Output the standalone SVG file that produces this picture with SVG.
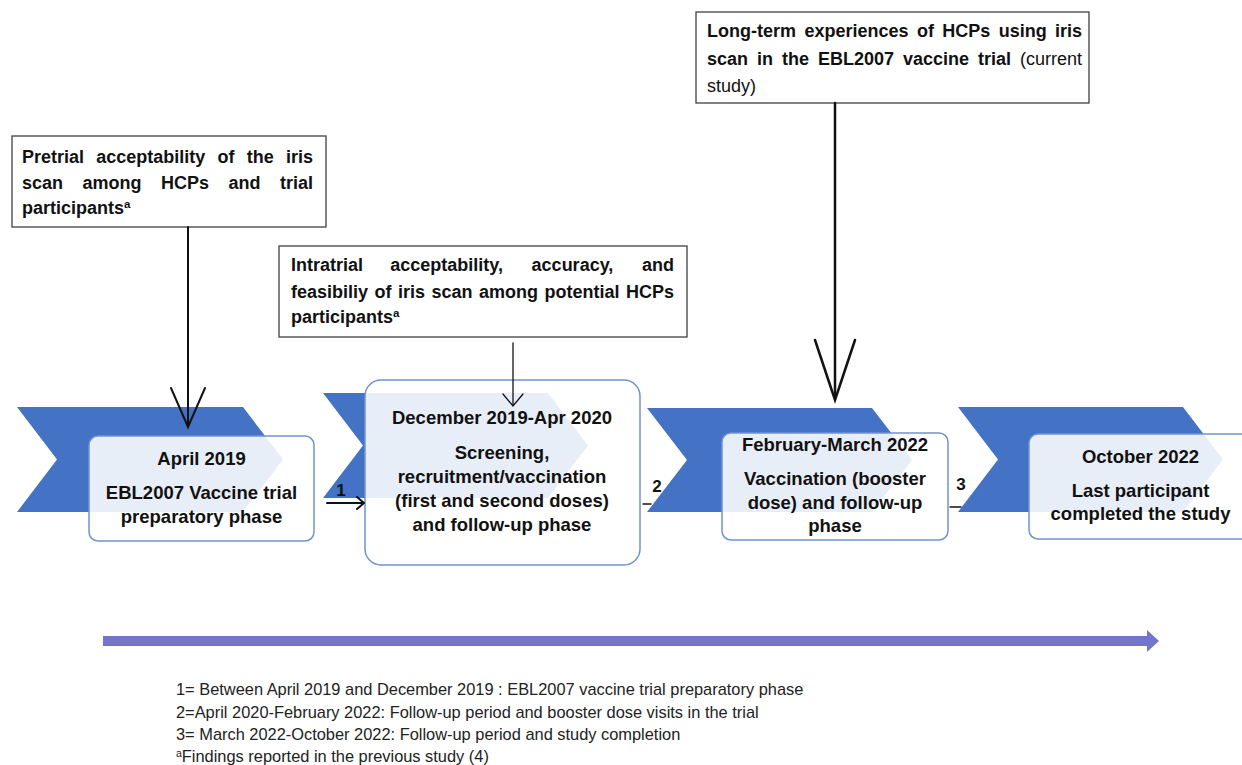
<svg xmlns="http://www.w3.org/2000/svg" width="1242" height="765" viewBox="0 0 1242 765">
<style>
.chev{fill:#4472C4}
.box{fill:#FFFFFF;fill-opacity:0.88;stroke:#7193D3;stroke-width:1.5}
.call{fill:#FFFFFF;stroke:#404040;stroke-width:1.3}
.bt{font-family:"Liberation Sans",Arial,sans-serif;font-weight:bold;font-size:18.5px;fill:#111;text-anchor:middle}
.ct{font-family:"Liberation Sans",Arial,sans-serif;font-weight:bold;font-size:18px;fill:#111}
.reg{font-weight:normal}
.ft{font-family:"Liberation Sans",Arial,sans-serif;font-size:16.4px;fill:#222}
.lbl{font-family:"Liberation Sans",Arial,sans-serif;font-weight:bold;font-size:17px;fill:#111;text-anchor:middle}
.ln{fill:none;stroke:#111;stroke-linecap:round;stroke-linejoin:miter}
</style>
<rect width="1242" height="765" fill="#FFFFFF"/>

<g id="stage1">
<polygon class="chev" points="17,407 243,407 283,459.5 243,512 17,512 57,459.5"/>
<rect class="box" x="89" y="436" width="225" height="105" rx="9"/>
<text class="bt" x="201.5" y="465">April 2019</text>
<text class="bt" x="201.5" y="499">EBL2007 Vaccine trial</text>
<text class="bt" x="201.5" y="523">preparatory phase</text>
</g>

<g id="stage2">
<polygon class="chev" points="323,393 548,393 588,445.5 548,498 323,498 363,445.5"/>
<rect class="box" x="365" y="380" width="275" height="185" rx="16"/>
<text class="bt" x="502" y="424">December 2019-Apr 2020</text>
<text class="bt" x="502" y="459">Screening,</text>
<text class="bt" x="502" y="483">recruitment/vaccination</text>
<text class="bt" x="502" y="507">(first and second doses)</text>
<text class="bt" x="502" y="531">and follow-up phase</text>
</g>

<g id="stage3">
<polygon class="chev" points="647,408 872,408 912,460 872,512 647,512 687,460"/>
<rect class="box" x="722" y="433" width="226" height="107" rx="9"/>
<text class="bt" x="835" y="451">February-March 2022</text>
<text class="bt" x="835" y="485">Vaccination (booster</text>
<text class="bt" x="835" y="509">dose) and follow-up</text>
<text class="bt" x="835" y="532">phase</text>
</g>

<g id="stage4">
<polygon class="chev" points="958,407 1183,407 1223,459.5 1183,512 958,512 998,459.5"/>
<rect class="box" x="1029" y="434" width="225" height="105" rx="9"/>
<text class="bt" x="1140.5" y="463">October 2022</text>
<text class="bt" x="1140.5" y="497">Last participant</text>
<text class="bt" x="1140.5" y="520">completed the study</text>
</g>

<g id="callout-pretrial">
<rect class="call" x="12" y="136" width="314" height="91"/>
<text class="ct" y="163"><tspan x="22">Pretrial</tspan><tspan x="96.2">acceptability</tspan><tspan x="217.5">of</tspan><tspan x="246.7">the</tspan></text>
<text class="ct" y="163" x="313" text-anchor="end">iris</text>
<text class="ct" y="189"><tspan x="22">scan</tspan><tspan x="82.5">among</tspan><tspan x="161">HCPs</tspan><tspan x="228.5">and</tspan></text>
<text class="ct" y="189" x="313" text-anchor="end">trial</text>
<text class="ct" x="22" y="214">participants<tspan dy="-6" font-size="11.5">a</tspan></text>
</g>

<g id="callout-intratrial">
<rect class="call" x="279" y="246" width="408" height="91"/>
<text class="ct" y="271"><tspan x="291">Intratrial</tspan><tspan x="390.3">acceptability,</tspan><tspan x="531.6">accuracy,</tspan></text>
<text class="ct" y="271" x="674" text-anchor="end">and</text>
<text class="ct" y="298"><tspan x="291">feasibiliy</tspan><tspan x="374.5">of</tspan><tspan x="398">iris</tspan><tspan x="431.5">scan</tspan><tspan x="479">among</tspan><tspan x="544.5">potential</tspan></text>
<text class="ct" y="298" x="674" text-anchor="end">HCPs</text>
<text class="ct" x="291" y="323">participants<tspan dy="-6" font-size="11.5">a</tspan></text>
</g>

<g id="callout-current">
<rect class="call" x="696" y="12" width="393" height="91"/>
<text class="ct" y="37"><tspan x="707">Long-term</tspan><tspan x="804.4">experiences</tspan><tspan x="916.9">of</tspan><tspan x="942.3">HCPs</tspan><tspan x="998.7">using</tspan></text>
<text class="ct" y="37" x="1082" text-anchor="end">iris</text>
<text class="ct" y="65"><tspan x="707">scan</tspan><tspan x="757">in</tspan><tspan x="782">the</tspan><tspan x="818">EBL2007</tspan><tspan x="903">vaccine</tspan><tspan x="978">trial</tspan></text>
<text class="ct reg" y="65" x="1082" text-anchor="end">(current</text>
<text class="ct reg" x="707" y="92">study)</text>
</g>

<g id="timeline">
<rect x="103" y="636" width="1046" height="10" fill="#7474C8"/>
<polygon points="1147,630 1159,641 1147,652" fill="#7474C8"/>
</g>

<g id="footnotes">
<text class="ft" x="176" y="695">1= Between April 2019 and December 2019 : EBL2007 vaccine trial preparatory phase</text>
<text class="ft" x="176" y="718">2=April 2020-February 2022: Follow-up period and booster dose visits in the trial</text>
<text class="ft" x="176" y="740">3= March 2022-October 2022: Follow-up period and study completion</text>
<text class="ft" x="176" y="762"><tspan dy="-5" font-size="10.5">a</tspan><tspan dy="5">Findings reported in the previous study (4)</tspan></text>
</g>

<g id="connectors">
<line class="ln" x1="188" y1="227" x2="188" y2="425" stroke-width="2"/>
<polyline class="ln" points="171,388 188,427 205,388" stroke-width="2"/>
<line class="ln" x1="513" y1="343" x2="513" y2="405" stroke-width="1.3"/>
<polyline class="ln" points="503,394 513,406 523,394" stroke-width="1.3"/>
<line class="ln" x1="835" y1="103" x2="835" y2="398" stroke-width="2.5"/>
<polyline class="ln" points="815,340 835,400 855,340" stroke-width="2.5"/>
<line class="ln" x1="327" y1="503" x2="362" y2="503" stroke-width="2"/>
<polyline class="ln" points="357,497 364,503 357,509" stroke-width="2"/>
<text class="lbl" x="341" y="496">1</text>
<line class="ln" x1="643" y1="504" x2="651" y2="504" stroke-width="1.3"/>
<text class="lbl" x="657" y="492">2</text>
<line class="ln" x1="950" y1="507" x2="961" y2="507" stroke-width="1.3"/>
<text class="lbl" x="961" y="490">3</text>
</g>
</svg>
